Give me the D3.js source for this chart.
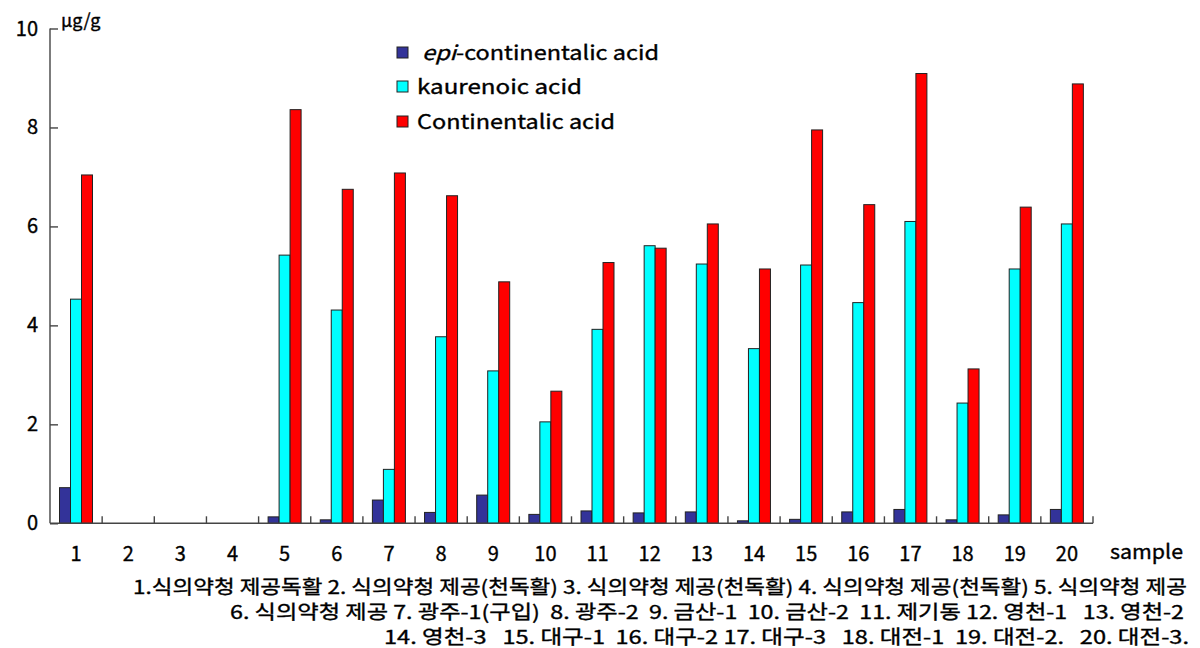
<!DOCTYPE html>
<html>
<head>
<meta charset="utf-8">
<script src="https://cdn.jsdelivr.net/npm/d3@7"></script>
<style>
  html, body { margin: 0; padding: 0; background: #fff; }
  svg { display: block; }
  text { font-family: "Noto Sans CJK KR", "DejaVu Sans", sans-serif; fill: #000; stroke: #000; stroke-width: 0.35px; }
</style>
</head>
<body>
<svg id="chart" width="1200" height="648"></svg>
<script>
// Sample numbers along the x axis
const samples = ["1","2","3","4","5","6","7","8","9","10","11","12","13","14","15","16","17","18","19","20"];

// Contents (µg/g) per sample
const epiContinentalic = [0.72, 0, 0, 0, 0.13, 0.07, 0.47, 0.22, 0.57, 0.18, 0.25, 0.21, 0.23, 0.05, 0.08, 0.23, 0.28, 0.07, 0.17, 0.28];
const kaurenoic        = [4.53, 0, 0, 0, 5.42, 4.31, 1.09, 3.77, 3.08, 2.05, 3.92, 5.61, 5.24, 3.53, 5.22, 4.46, 6.10, 2.43, 5.14, 6.05];
const continentalic    = [7.04, 0, 0, 0, 8.36, 6.75, 7.08, 6.62, 4.88, 2.67, 5.27, 5.56, 6.05, 5.14, 7.95, 6.44, 9.09, 3.12, 6.39, 8.88];

const seriesNames = ["epi-continentalic acid", "kaurenoic acid", "Continentalic acid"];
const seriesColors = ["#333399", "#00ffff", "#ff0000"];
const yTicks = [0, 2, 4, 6, 8, 10];

// Sample origin notes printed under the axis
const noteLines = [
  "1.식의약청 제공독활 2. 식의약청 제공(천독활) 3. 식의약청 제공(천독활) 4. 식의약청 제공(천독활) 5. 식의약청 제공",
  "6. 식의약청 제공 7. 광주-1(구입)  8. 광주-2  9. 금산-1  10. 금산-2  11. 제기동 12. 영천-1   13. 영천-2",
  "14. 영천-3   15. 대구-1  16. 대구-2 17. 대구-3   18. 대전-1  19. 대전-2.   20. 대전-3."
];

const svg = d3.select("#chart");

const x0 = d3.scaleBand().domain(samples).range([50, 1093]).padding(0);
const x1 = d3.scaleBand().domain(seriesNames).range([9.5, 42.5]).padding(0);
const y = d3.scaleLinear().domain([0, 10]).range([523.3, 28.5]);

const seriesValues = [epiContinentalic, kaurenoic, continentalic];
const rows = [];
samples.forEach((s, i) => {
  seriesNames.forEach((n, k) => {
    rows.push({ sample: s, series: n, value: seriesValues[k][i], color: seriesColors[k] });
  });
});

// Bars
svg.append("g").selectAll("rect")
  .data(rows.filter(d => d.value > 0))
  .join("rect")
  .attr("x", d => x0(d.sample) + x1(d.series))
  .attr("y", d => y(d.value))
  .attr("width", x1.bandwidth())
  .attr("height", d => y(0) - y(d.value))
  .attr("fill", d => d.color)
  .attr("stroke", "#222")
  .attr("stroke-width", 1);

// Y axis: line, inward ticks, labels
const yAxis = svg.append("g").attr("transform", "translate(50,0)")
  .call(d3.axisRight(y).tickValues(yTicks).tickSize(8).tickFormat(""));
yAxis.select(".domain").attr("stroke", "#444").attr("stroke-width", 1.4).attr("d", `M0,${y(10)}V${y(0)}`);
yAxis.selectAll(".tick line").attr("stroke", "#444").attr("stroke-width", 1.4);

svg.append("g").selectAll("text")
  .data(yTicks)
  .join("text")
  .attr("x", 38)
  .attr("y", d => y(d) + 7)
  .attr("text-anchor", "end")
  .attr("font-size", 20)
  .text(d => d);

svg.append("text")
  .attr("x", 61).attr("y", 27)
  .attr("font-size", 18)
  .text("μg/g");

// X axis: baseline with upward ticks between groups
const xAxis = svg.append("g").attr("transform", `translate(0,${y(0)})`);
xAxis.append("line")
  .attr("x1", 50).attr("x2", 1093)
  .attr("stroke", "#444").attr("stroke-width", 1.4);
xAxis.selectAll("line.tk")
  .data(samples)
  .join("line")
  .attr("class", "tk")
  .attr("x1", d => x0(d) + x0.bandwidth())
  .attr("x2", d => x0(d) + x0.bandwidth())
  .attr("y1", 0).attr("y2", -7)
  .attr("stroke", "#444").attr("stroke-width", 1.4);

svg.append("g").selectAll("text")
  .data(samples)
  .join("text")
  .attr("x", d => x0(d) + x0.bandwidth() / 2)
  .attr("y", 561)
  .attr("text-anchor", "middle")
  .attr("font-size", 20)
  .text(d => d);

svg.append("text")
  .attr("x", 1110).attr("y", 559)
  .attr("font-size", 20)
  .attr("textLength", 73).attr("lengthAdjust", "spacingAndGlyphs")
  .text("sample");

// Legend
const legend = svg.append("g");
const legendRows = [
  { y: 53, textX: 422, width: 237 },
  { y: 87, textX: 417, width: 165 },
  { y: 122, textX: 417, width: 198 }
];
legendRows.forEach((r, k) => {
  legend.append("rect")
    .attr("x", 397).attr("y", r.y - 6)
    .attr("width", 11).attr("height", 11)
    .attr("fill", seriesColors[k])
    .attr("stroke", "#222").attr("stroke-width", 1);
  const t = legend.append("text")
    .attr("x", r.textX).attr("y", r.y + 7)
    .attr("font-size", 20)
    .attr("textLength", r.width).attr("lengthAdjust", "spacingAndGlyphs");
  if (k === 0) {
    t.append("tspan").attr("font-style", "italic").text("epi");
    t.append("tspan").text("-continentalic acid");
  } else {
    t.text(seriesNames[k]);
  }
});

// Footnotes, right-aligned
const noteLayout = [
  { x: 133, y: 594, width: 1054 },
  { x: 230, y: 619, width: 954 },
  { x: 384, y: 644, width: 805 }
];
noteLines.forEach((line, i) => {
  svg.append("text")
    .attr("x", noteLayout[i].x).attr("y", noteLayout[i].y)
    .attr("font-size", 19)
    .style("white-space", "pre")
    .attr("textLength", noteLayout[i].width).attr("lengthAdjust", "spacingAndGlyphs")
    .text(line);
});
</script>
</body>
</html>
